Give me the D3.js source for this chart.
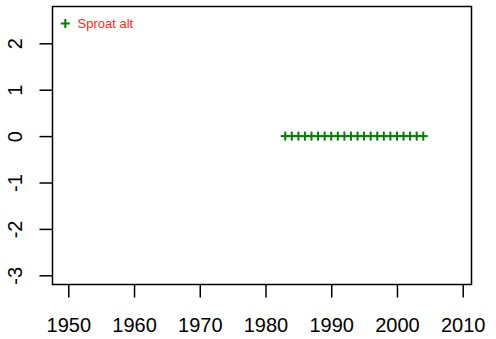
<!DOCTYPE html>
<html><head><meta charset="utf-8">
<script src="https://cdn.jsdelivr.net/npm/d3@7"></script>
<style>body{margin:0;background:#fff}svg{display:block}text{font-family:"Liberation Sans",Arial,sans-serif}</style>
</head><body>
<script>
const years = [1983,1984,1985,1986,1987,1988,1989,1990,1991,1992,1993,1994,1995,1996,1997,1998,1999,2000,2001,2002,2003,2004];
const values = [0,0,0,0,0,0,0,0,0,0,0,0,0,0,0,0,0,0,0,0,0,0];
const xTicks = [1950,1960,1970,1980,1990,2000,2010];
const yTicks = [-3,-2,-1,0,1,2];
const legendLabel = "Sproat alt";

const W=496,H=339;
const box={l:52.5,r:471.5,t:6.5,b:284.5};
const svg=d3.select("body").append("svg").attr("width",W).attr("height",H);
const x=d3.scaleLinear().domain([1950,2010]).range([68.3,462.7]);
const y=d3.scaleLinear().domain([-3,2]).range([275.3,43.3]);

svg.append("rect").attr("x",box.l).attr("y",box.t).attr("width",box.r-box.l).attr("height",box.b-box.t)
  .attr("fill","none").attr("stroke","#000").attr("stroke-width",1.5);

const xa=svg.append("g").attr("transform",`translate(0,${box.b})`)
  .call(d3.axisBottom(x).tickValues(xTicks).tickFormat(d=>String(d)).tickSize(13).tickPadding(20).tickSizeOuter(0));
xa.select(".domain").remove();
xa.selectAll("line").attr("stroke-width",1.5);
xa.selectAll("text").attr("font-size",20).attr("fill","#000").attr("font-family","Liberation Sans, Arial, sans-serif");

const ya=svg.append("g").attr("transform",`translate(${box.l},0)`)
  .call(d3.axisLeft(y).tickValues(yTicks).tickFormat(d=>String(d)).tickSize(13).tickSizeOuter(0));
ya.select(".domain").remove();
ya.selectAll("line").attr("stroke-width",1.5);
ya.selectAll("text").attr("font-size",20).attr("fill","#000").attr("font-family","Liberation Sans, Arial, sans-serif")
  .attr("x",null).attr("dy",null).attr("text-anchor","middle")
  .attr("transform","translate(-30.5,0) rotate(-90)");

const green="#007F00";
function drawPlus(g,cx,cy,s){
  g.append("line").attr("x1",cx-s).attr("x2",cx+s).attr("y1",cy).attr("y2",cy).attr("stroke",green).attr("stroke-width",2);
  g.append("line").attr("x1",cx).attr("x2",cx).attr("y1",cy-s).attr("y2",cy+s).attr("stroke",green).attr("stroke-width",2);
}
const pg=svg.append("g");
years.forEach((yr,i)=>drawPlus(pg,x(yr),y(values[i]),4.5));

const lg=svg.append("g");
drawPlus(lg,65.3,23.5,4.5);
lg.append("text").attr("x",77.5).attr("y",28).attr("font-size",13).attr("fill","#FF2A14").text(legendLabel);
</script>
</body></html>
